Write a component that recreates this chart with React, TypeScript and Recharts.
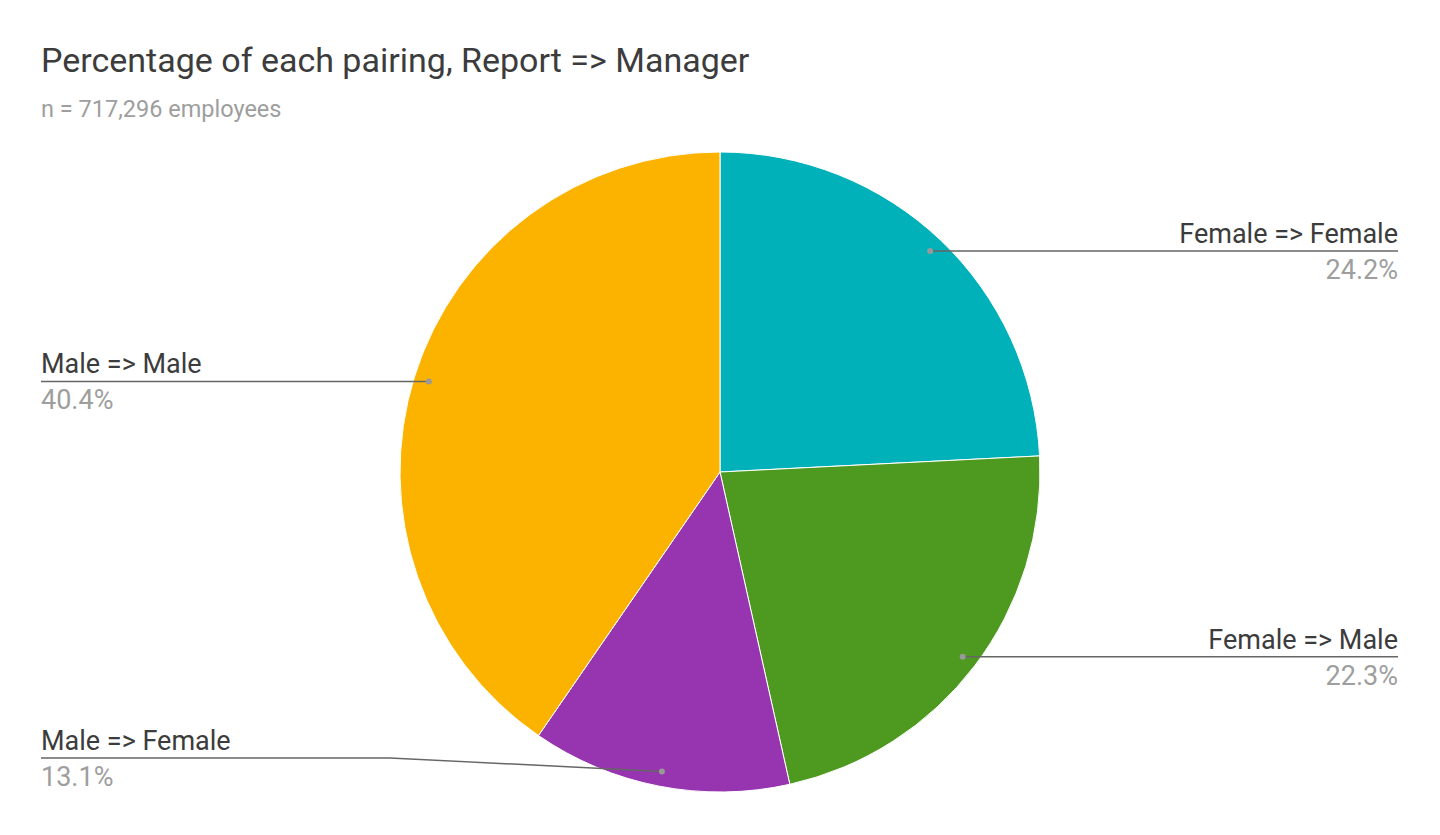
import { PieChart, Pie, Cell } from "recharts";

/* ------------------------------------------------------------------ */
/*  Data                                                               */
/* ------------------------------------------------------------------ */

const pairings = ["Female => Female", "Female => Male", "Male => Female", "Male => Male"];
const shares = [24.2, 22.3, 13.1, 40.4];
const sliceColors = ["#00B1B9", "#4E9A20", "#9734AF", "#FBB300"];

const data = pairings.map((name, i) => ({ name, value: shares[i] }));

const RADIAN = Math.PI / 180;

const styles: Record<string, React.CSSProperties> = {
  page: {
    position: "absolute",
    left: 0,
    top: 0,
    width: 1440,
    height: 835,
    background: "#fff",
    fontFamily: "Roboto, sans-serif",
  },
  title: {
    position: "absolute",
    left: 41,
    top: 40,
    fontSize: 34,
    color: "#3c3c3c",
    whiteSpace: "nowrap",
  },
  subtitle: {
    position: "absolute",
    left: 41,
    top: 95,
    fontSize: 23.5,
    color: "#9e9e9e",
    whiteSpace: "nowrap",
  },
};

/* ------------------------------------------------------------------ */
/*  Label with leader line (sheets style)                              */
/* ------------------------------------------------------------------ */

function renderLabel(props: any) {
  const { cx, cy, midAngle, outerRadius, name, value } = props;
  const r = outerRadius * 0.953;
  const dx = cx + r * Math.cos(-midAngle * RADIAN);
  const dy = cy + r * Math.sin(-midAngle * RADIAN);
  const right = dx > cx;
  const edge = right ? 1398 : 41;
  // keep labels inside the plot at the bottom
  const ly = Math.min(dy, cy + 286);
  const bend = right ? dx + 28 : dx - 272;
  const path =
    ly === dy
      ? `M${dx},${dy} L${edge},${ly}`
      : `M${dx},${dy} L${bend},${ly} L${edge},${ly}`;
  return (
    <g key={name}>
      <path d={path} stroke="#666" strokeWidth={1.5} fill="none" />
      <circle cx={dx} cy={dy} r={3} fill="#999" />
      <text
        x={edge}
        y={ly - 8}
        textAnchor={right ? "end" : "start"}
        fontSize={27}
        fill="#3c3c3c"
        fontFamily="Roboto, sans-serif"
      >
        {name}
      </text>
      <text
        x={edge}
        y={ly + 28}
        textAnchor={right ? "end" : "start"}
        fontSize={27}
        fill="#9e9e9e"
        fontFamily="Roboto, sans-serif"
      >
        {value.toFixed(1)}%
      </text>
    </g>
  );
}

export default function App() {
  return (
    <div style={styles.page}>
      <PieChart width={1440} height={835} margin={{ top: 0, right: 0, bottom: 0, left: 0 }}>
        <Pie
          data={data}
          dataKey="value"
          nameKey="name"
          cx={720}
          cy={472}
          outerRadius={320}
          startAngle={90}
          endAngle={-270}
          stroke="#fff"
          strokeWidth={1}
          label={renderLabel}
          labelLine={false}
          isAnimationActive={false}
        >
          {data.map((_, i) => (
            <Cell key={i} fill={sliceColors[i]} />
          ))}
        </Pie>
      </PieChart>
      <div style={styles.title}>Percentage of each pairing, Report =&gt; Manager</div>
      <div style={styles.subtitle}>n = 717,296 employees</div>
    </div>
  );
}
